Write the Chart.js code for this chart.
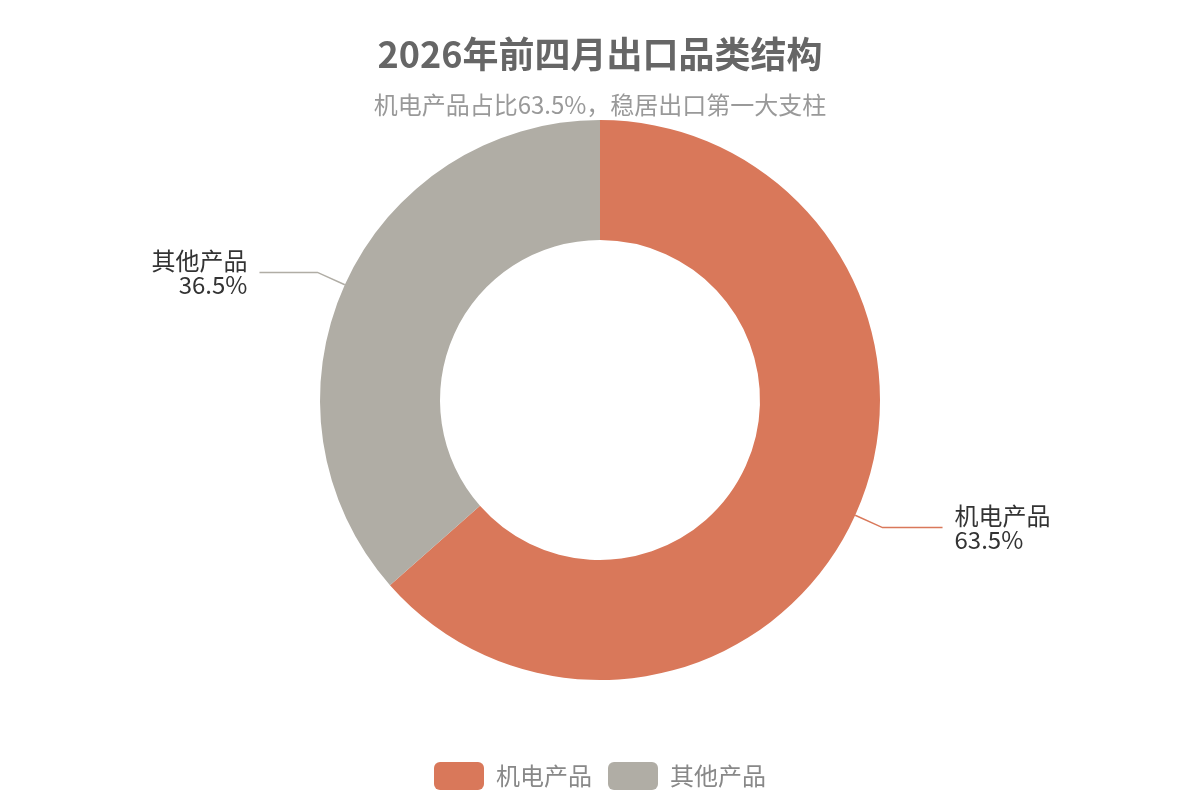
<!DOCTYPE html>
<html>
<head>
<meta charset="utf-8">
<script src="https://cdn.jsdelivr.net/npm/chart.js@4/dist/chart.umd.min.js"></script>
<style>
  html, body { margin: 0; padding: 0; background: #fff; }
  #wrap { width: 1200px; height: 800px; }
</style>
</head>
<body>
<div id="wrap"><canvas id="pieChart"></canvas></div>
<script>
// 品类与占比（%）
const categories = ['机电产品', '其他产品'];
const shares = [63.5, 36.5];
const sliceColors = ['#D9785A', '#B0ADA5'];

const FONT = "'Noto Sans CJK SC', 'Noto Sans', sans-serif";

// 让圆环区域上下居中（标题与图例高度不同）
const centerArea = {
    id: 'centerArea',
    afterLayout(chart) {
        const a = chart.chartArea;
        a.top = 120;
        a.bottom = 680;
        a.height = a.bottom - a.top;
    }
};

// 外侧标签 + 引导线
const outerLabels = {
    id: 'outerLabels',
    afterDatasetsDraw(chart) {
        const ctx = chart.ctx;
        const meta = chart.getDatasetMeta(0);
        meta.data.forEach((arc, i) => {
            const { x, y, startAngle, endAngle, outerRadius } = arc.getProps(['x', 'y', 'startAngle', 'endAngle', 'outerRadius'], true);
            const mid = (startAngle + endAngle) / 2;
            const cos = Math.cos(mid), sin = Math.sin(mid);
            const x1 = x + outerRadius * cos, y1 = y + outerRadius * sin;
            const x2 = x + (outerRadius + 30) * cos, y2 = y + (outerRadius + 30) * sin;
            const right = cos >= 0;
            const x3 = x2 + (right ? 60 : -58);
            ctx.save();
            ctx.strokeStyle = sliceColors[i];
            ctx.lineWidth = 1.5;
            ctx.beginPath();
            ctx.moveTo(x1, y1);
            ctx.lineTo(x2, y2);
            ctx.lineTo(x3, y2);
            ctx.stroke();
            ctx.fillStyle = '#333';
            ctx.font = '24px ' + FONT;
            ctx.textAlign = right ? 'left' : 'right';
            ctx.textBaseline = 'middle';
            const tx = x3 + (right ? 12 : -12);
            ctx.fillText(categories[i], tx, y2 - 12);
            ctx.fillText(shares[i].toFixed(1) + '%', tx, y2 + 12);
            ctx.restore();
        });
    }
};

new Chart(document.getElementById('pieChart'), {
    type: 'doughnut',
    data: {
        labels: categories,
        datasets: [{
            data: shares,
            backgroundColor: sliceColors,
            borderWidth: 0,
            radius: 280,
            cutout: (160 / 280 * 100) + '%'
        }]
    },
    options: {
        responsive: true,
        maintainAspectRatio: false,
        animation: false,
        layout: { padding: 0 },
        plugins: {
            title: {
                display: true,
                text: '2026年前四月出口品类结构',
                color: '#666',
                font: { family: FONT, size: 36, weight: 'bold' },
                padding: { top: 33, bottom: 0 }
            },
            subtitle: {
                display: true,
                text: '机电产品占比63.5%，稳居出口第一大支柱',
                color: '#999',
                font: { family: FONT, size: 24 },
                padding: { top: 14, bottom: 0 }
            },
            legend: {
                position: 'bottom',
                labels: {
                    boxWidth: 50,
                    boxHeight: 28,
                    useBorderRadius: true,
                    borderRadius: 6,
                    padding: 16,
                    color: '#888',
                    font: { family: FONT, size: 24 }
                }
            },
            tooltip: { enabled: false }
        }
    },
    plugins: [centerArea, outerLabels]
});
</script>
</body>
</html>
